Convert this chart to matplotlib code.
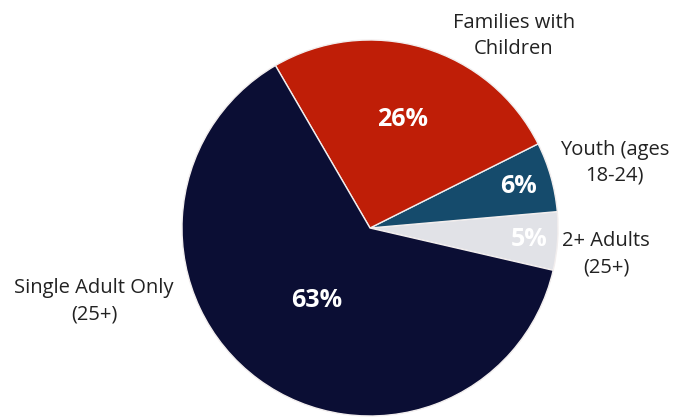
import numpy as np
import matplotlib.pyplot as plt

plt.rcParams['font.family'] = ['Open Sans', 'DejaVu Sans']

# slice data, counter-clockwise from the 2+ adults wedge
labels = ['2+ Adults\n(25+)', 'Youth (ages\n18-24)', 'Families with\nChildren', 'Single Adult Only\n(25+)']
shares = [5, 6, 26, 63]
colors = ['#e1e2e7', '#154b6c', '#bf1e07', '#0b0e34']

# where the category names and the percent labels sit
label_pos = [(1.255, -0.14), (1.30, 0.345), (0.766, 1.02), (-1.468, -0.39)]
pct_r = [0.85, 0.82, 0.60, 0.48]

fig = plt.figure(figsize=(6.85, 4.18), dpi=100)
ax = fig.add_axes([0, 0, 1, 1])

wedges, _ = ax.pie(shares, colors=colors, startangle=-13, counterclock=True,
                   radius=1, wedgeprops=dict(edgecolor='#f2eeee', linewidth=1.0))

for w, lab, pos, r, v in zip(wedges, labels, label_pos, pct_r, shares):
    mid = np.deg2rad((w.theta1 + w.theta2) / 2)
    ax.text(r * np.cos(mid), r * np.sin(mid), f'{v}%', ha='center', va='center',
            fontsize=18, fontweight='bold', color='white')
    ax.text(pos[0], pos[1], lab, ha='center', va='center', fontsize=14.5,
            color='#222222', linespacing=1.38)

ax.set_xlim(-370 / 188, 315 / 188)
ax.set_ylim(-190 / 188, 228 / 188)
ax.set_aspect('equal')
ax.axis('off')

fig.savefig('out.png', dpi=100)
